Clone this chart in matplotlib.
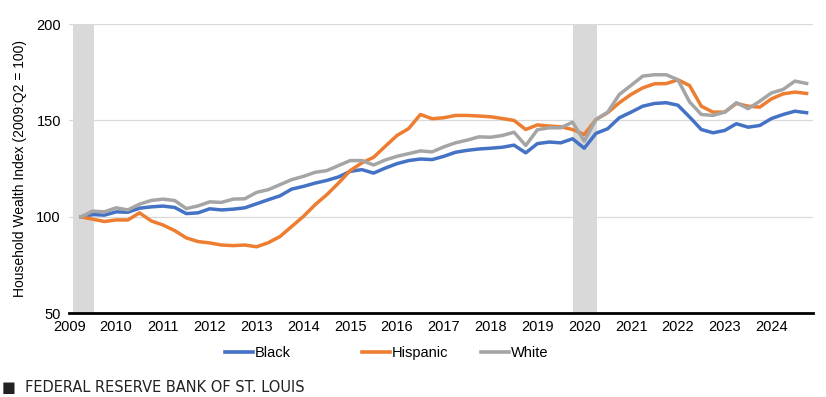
import matplotlib
matplotlib.use("Agg")
import matplotlib.pyplot as plt
from matplotlib.lines import Line2D

# quarterly index, 2009:Q2 = 100
quarters = [(y, q) for y in range(2009, 2025) for q in range(1, 5)][1:]

black = [100, 101.2, 100.9, 102.6, 102.4, 104.5, 105.2, 105.6, 104.9, 101.7,
         102.1, 104.2, 103.6, 104.0, 104.7, 106.8, 108.9, 110.9, 114.4, 115.8,
         117.5, 118.9, 120.7, 123.6, 124.5, 122.7, 125.3, 127.6, 129.2, 130.0,
         129.7, 131.4, 133.5, 134.5, 135.2, 135.6, 136.1, 137.2, 133.2, 138.0,
         138.8, 138.4, 140.5, 135.6, 143.3, 145.7, 151.4, 154.3, 157.4, 158.8,
         159.2, 157.9, 151.8, 145.3, 143.6, 144.8, 148.3, 146.5, 147.4, 151.0,
         153.1, 154.8, 154.0]
hispanic = [100, 98.8, 97.6, 98.4, 98.4, 102.1, 97.9, 95.8, 92.9, 89.1,
            87.2, 86.5, 85.4, 85.1, 85.4, 84.5, 86.6, 89.8, 95.0, 100.2,
            106.3, 111.5, 117.5, 124.0, 128.0, 130.9, 136.6, 142.2, 145.8, 153.1,
            150.9, 151.4, 152.6, 152.6, 152.3, 151.9, 151.0, 150.0, 145.3, 147.7,
            147.1, 146.7, 145.3, 142.7, 150.5, 154.0, 159.2, 163.5, 166.9, 169.0,
            169.1, 171.1, 168.1, 157.4, 154.3, 154.3, 158.8, 157.4, 156.9, 161.2,
            163.8, 164.7, 164.0]
white = [100, 103.0, 102.6, 104.7, 103.6, 106.6, 108.5, 109.2, 108.5, 104.3,
         105.7, 107.8, 107.5, 109.2, 109.4, 112.7, 114.1, 116.7, 119.3, 121.0,
         123.1, 124.0, 126.6, 129.2, 129.2, 126.9, 129.5, 131.4, 132.8, 134.2,
         133.7, 136.3, 138.4, 139.8, 141.5, 141.3, 142.2, 143.9, 137.0, 145.2,
         146.2, 146.2, 149.1, 139.3, 150.5, 154.3, 163.5, 168.2, 173.0, 173.7,
         173.7, 171.1, 159.6, 153.1, 152.6, 154.3, 159.2, 156.1, 160.0, 164.3,
         166.1, 170.4, 169.2]

recession_start = [2009.07, 2019.77]
recession_end = [2009.52, 2020.27]
year_ticks = list(range(2009, 2025))

series = [("Black", black, "#4472C4"),
          ("Hispanic", hispanic, "#ED7D31"),
          ("White", white, "#A5A5A5")]

x = [y + (q - 1) / 4 for y, q in quarters]

sans = ["Liberation Sans", "DejaVu Sans"]

fig = plt.figure(figsize=(8.26, 3.97), dpi=100)
ax = fig.add_axes([0.0839, 0.2108, 0.9, 0.7287])

for s, e in zip(recession_start, recession_end):
    ax.axvspan(s, e, color="#D9D9D9", lw=0, zorder=0)

for name, vals, col in series:
    ax.plot(x, vals, color=col, lw=2.5, label=name, zorder=3)

ax.set_xlim(2009.0, 2024.88)
ax.set_ylim(50, 200)
ax.set_yticks([50, 100, 150, 200])
ax.set_xticks(year_ticks)
ax.grid(axis="y", color="#D9D9D9", lw=0.9, zorder=1)
ax.set_axisbelow(True)
for sp in ["top", "right", "left"]:
    ax.spines[sp].set_visible(False)
ax.spines["bottom"].set_linewidth(2)
ax.spines["bottom"].set_zorder(4)
ax.tick_params(length=0, labelsize=10.5)
ax.tick_params(axis="y", pad=6)
ax.tick_params(axis="x", pad=5)
for lab in ax.get_xticklabels() + ax.get_yticklabels():
    lab.set_family(sans)

ax.set_ylabel("Household Wealth Index (2009:Q2 = 100)", fontsize=10,
              family=sans, labelpad=7)

# legend entries placed one by one like the original
legend_x = [222, 359, 478]
for (name, vals, col), lx in zip(series, legend_x):
    h = Line2D([], [], color=col, lw=2.6)
    fig.legend(handles=[h], labels=[name], loc="center left",
               bbox_to_anchor=(lx / 826 - 0.012, 1 - 353 / 397), frameon=False,
               handlelength=1.9, handletextpad=0.15,
               prop={"family": sans, "size": 10.5})

fig.text(0.003, 1 - 388 / 397, "\u25a0  FEDERAL RESERVE BANK OF ST. LOUIS",
         fontsize=10.5, va="center", ha="left", color="#222222")

fig.savefig("out.png", dpi=100)
